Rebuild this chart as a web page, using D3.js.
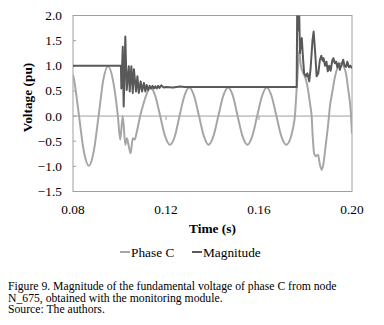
<!DOCTYPE html>
<html>
<head>
<meta charset="UTF-8">
<script src="https://d3js.org/d3.v7.min.js"></script>
</head>
<body style="margin:0">
<svg width="384" height="325"></svg>
<script>
// values: [time (s), voltage (pu)]
const phaseC = [
  [0.0800, 0.82], [0.0805, 0.71], [0.0826, 0.00], [0.0847, -0.71], [0.0868, -0.99],
  [0.0889, -0.71], [0.0910, 0.00], [0.0930, 0.71], [0.0951, 0.99], [0.0972, 0.71],
  [0.0982, 0.42], [0.0993, 0.00], [0.1003, -0.47], [0.1014, 0.00], [0.1025, -0.57],
  [0.1032, -0.44], [0.1040, -0.60], [0.1048, -0.74], [0.1057, -0.44], [0.1065, -0.47],
  [0.1075, -0.30], [0.1089, 0.00], [0.1104, 0.26], [0.1118, 0.45], [0.1133, 0.57],
  [0.1154, 0.40], [0.1175, 0.00], [0.1196, -0.40], [0.1217, -0.57], [0.1238, -0.40],
  [0.1258, 0.00], [0.1279, 0.40], [0.1300, 0.57], [0.1321, 0.40], [0.1342, 0.00],
  [0.1363, -0.40], [0.1383, -0.57], [0.1404, -0.40], [0.1425, 0.00], [0.1446, 0.40],
  [0.1467, 0.57], [0.1488, 0.40], [0.1508, 0.00], [0.1529, -0.40], [0.1550, -0.57],
  [0.1571, -0.40], [0.1592, 0.00], [0.1613, 0.40], [0.1633, 0.57], [0.1654, 0.40],
  [0.1675, 0.00], [0.1696, -0.40], [0.1717, -0.57], [0.1738, -0.40], [0.1748, -0.20],
  [0.1755, 0.03], [0.1759, 0.32], [0.1765, 0.75], [0.1773, 1.30], [0.1780, 1.00],
  [0.1791, 0.85], [0.1802, 0.72], [0.1812, 0.49], [0.1819, 0.26], [0.1827, -0.04],
  [0.1831, -0.40], [0.1837, -0.74], [0.1845, -0.80], [0.1854, -0.77], [0.1862, -0.97],
  [0.1870, -1.07], [0.1877, -0.95], [0.1888, -0.54], [0.1898, -0.14], [0.1905, 0.19],
  [0.1917, 0.52], [0.1927, 0.79], [0.1941, 0.99], [0.1951, 1.05], [0.1963, 1.00],
  [0.1974, 0.85], [0.1984, 0.52], [0.1994, 0.13], [0.2000, -0.35]
];

const magnitude = [
  [0.0800, 1.00], [0.1006, 1.00], [0.1008, 0.55], [0.1014, 1.38], [0.1018, 0.19],
  [0.1025, 1.58], [0.1031, 0.52], [0.1040, 0.99], [0.1044, 0.49], [0.1051, 0.99],
  [0.1057, 0.46], [0.1062, 0.93], [0.1071, 0.49], [0.1077, 0.79], [0.1083, 0.46],
  [0.1091, 0.69], [0.1097, 0.49], [0.1105, 0.66], [0.1111, 0.49], [0.1117, 0.62],
  [0.1123, 0.52], [0.1130, 0.60], [0.1136, 0.55], [0.1142, 0.60], [0.1148, 0.55],
  [0.1154, 0.59], [0.1160, 0.55], [0.1166, 0.60], [0.1172, 0.56], [0.1180, 0.61],
  [0.1190, 0.57], [0.1200, 0.58], [0.1230, 0.57], [0.1260, 0.59], [0.1280, 0.58],
  [0.1762, 0.58], [0.1765, 2.60], [0.1769, 1.70], [0.1772, 2.30], [0.1776, 1.25],
  [0.1780, 1.45], [0.1784, 1.55], [0.1788, 1.25], [0.1794, 0.85], [0.1802, 0.79],
  [0.1808, 0.85], [0.1816, 0.69], [0.1822, 0.95], [0.1830, 1.50], [0.1835, 1.68],
  [0.1841, 1.30], [0.1848, 0.79], [0.1855, 0.85], [0.1862, 1.12], [0.1868, 1.20],
  [0.1874, 1.10], [0.1878, 1.15], [0.1884, 1.00], [0.1890, 1.08], [0.1896, 0.89],
  [0.1902, 1.00], [0.1908, 0.90], [0.1915, 1.10], [0.1920, 1.15], [0.1926, 1.05],
  [0.1932, 1.08], [0.1937, 0.97], [0.1943, 1.05], [0.1948, 0.92], [0.1955, 1.02],
  [0.1962, 1.12], [0.1968, 1.00], [0.1975, 0.98], [0.1980, 1.08], [0.1987, 0.97],
  [0.1993, 1.00], [0.2000, 0.95]
];

const xTicks = [0.08, 0.12, 0.16, 0.20];
const yTicks = [-1.5, -1.0, -0.5, 0.0, 0.5, 1.0, 1.5, 2.0];
const seriesNames = ["Phase C", "Magnitude"];
const captionLines = [
  "Figure 9. Magnitude of the fundamental voltage of phase C from node",
  "N_675, obtained with the monitoring module.",
  "Source: The authors."
];

const fontName = "'Liberation Serif'";
const labelSize = 13.33;

const svg = d3.select("svg");
const plotLeft = 73, plotRight = 352, plotTop = 15.5, plotBottom = 191.5;

const x = d3.scaleLinear().domain([0.08, 0.20]).range([plotLeft, plotRight]);
const y = d3.scaleLinear().domain([-1.5, 2.0]).range([plotBottom, plotTop]);

const colors = { "Phase C": "#a6a6a6", "Magnitude": "#595959" };

svg.append("defs").append("clipPath").attr("id", "plotClip")
  .append("rect")
  .attr("x", plotLeft).attr("y", plotTop)
  .attr("width", plotRight - plotLeft).attr("height", plotBottom - plotTop);

// plot frame
svg.append("rect")
  .attr("x", plotLeft).attr("y", plotTop)
  .attr("width", plotRight - plotLeft).attr("height", plotBottom - plotTop)
  .attr("fill", "none").attr("stroke", "#a0a0a0").attr("stroke-width", 1);

// zero line (x axis sits on it)
svg.append("line")
  .attr("x1", plotLeft).attr("x2", plotRight)
  .attr("y1", y(0)).attr("y2", y(0))
  .attr("stroke", "#a0a0a0").attr("stroke-width", 1);

// x tick marks on zero line
svg.append("g").selectAll("line")
  .data(xTicks.slice(1, -1))
  .enter().append("line")
  .attr("x1", d => x(d)).attr("x2", d => x(d))
  .attr("y1", y(0)).attr("y2", y(0) + 4)
  .attr("stroke", "#a0a0a0");

// y tick marks on left edge
svg.append("g").selectAll("line")
  .data(yTicks)
  .enter().append("line")
  .attr("x1", plotLeft).attr("x2", plotLeft + 3)
  .attr("y1", d => y(d)).attr("y2", d => y(d))
  .attr("stroke", "#a0a0a0");

// tick labels
svg.append("g").selectAll("text")
  .data(yTicks)
  .enter().append("text")
  .attr("font-family", fontName)
  .attr("font-size", labelSize)
  .attr("x", plotLeft - 11)
  .attr("y", d => y(d) + 4.5)
  .attr("text-anchor", "end")
  .text(d => d3.format(".1f")(d));

svg.append("g").selectAll("text")
  .data(xTicks)
  .enter().append("text")
  .attr("font-family", fontName)
  .attr("font-size", labelSize)
  .attr("x", d => x(d))
  .attr("y", 213.5)
  .attr("text-anchor", "middle")
  .text(d => d3.format(".2f")(d));

// axis titles
svg.append("text")
  .attr("font-family", fontName)
  .attr("font-size", labelSize)
  .attr("font-weight", "bold")
  .attr("x", (plotLeft + plotRight) / 2)
  .attr("y", 232.5)
  .attr("text-anchor", "middle")
  .text("Time (s)");

svg.append("text")
  .attr("font-family", fontName)
  .attr("font-size", labelSize)
  .attr("font-weight", "bold")
  .attr("transform", "translate(32," + ((plotTop + plotBottom) / 2 - 6) + ") rotate(-90)")
  .attr("text-anchor", "middle")
  .text("Voltage (pu)");

// series
const line = d3.line()
  .x(d => x(d[0]))
  .y(d => y(d[1]));

const plot = svg.append("g").attr("clip-path", "url(#plotClip)");

plot.append("path")
  .datum(phaseC)
  .attr("fill", "none")
  .attr("stroke", colors["Phase C"])
  .attr("stroke-width", 2)
  .attr("d", line.curve(d3.curveMonotoneX));

plot.append("path")
  .datum(magnitude)
  .attr("fill", "none")
  .attr("stroke", colors["Magnitude"])
  .attr("stroke-width", 2)
  .attr("stroke-linejoin", "round")
  .attr("d", line.curve(d3.curveLinear));

// legend
const legendX = [120, 192];
seriesNames.forEach((name, i) => {
  const g = svg.append("g").attr("transform", "translate(" + legendX[i] + ",256.5)");
  g.append("line")
    .attr("x1", 0).attr("x2", 10)
    .attr("y1", -4.5).attr("y2", -4.5)
    .attr("stroke", colors[name]).attr("stroke-width", 2);
  g.append("text")
    .attr("font-family", fontName)
    .attr("font-size", labelSize)
    .attr("x", 11).attr("y", 0)
    .text(name);
});

// caption
svg.append("g").selectAll("text")
  .data(captionLines)
  .enter().append("text")
  .attr("font-family", fontName)
  .attr("font-size", 11.7)
  .attr("x", 8)
  .attr("y", (d, i) => 290 + i * 11.7)
  .text(d => d);
</script>
</body>
</html>
